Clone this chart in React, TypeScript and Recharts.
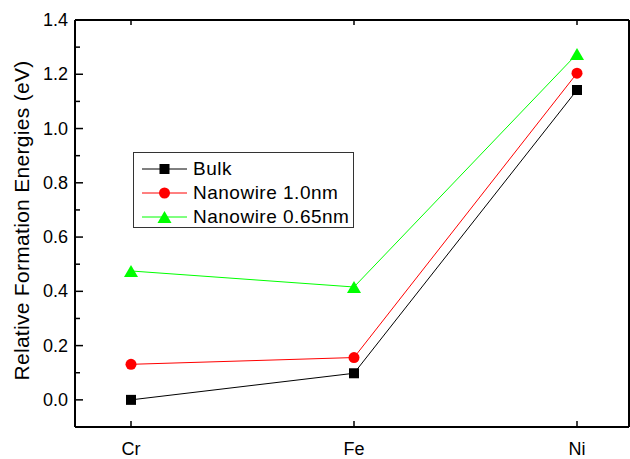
import { LineChart, Line, XAxis, YAxis, Legend, Label } from 'recharts'

const elements = ['Cr', 'Fe', 'Ni']
const bulk = [0.0, 0.098, 1.142]
const nanowire10 = [0.131, 0.156, 1.204]
const nanowire065 = [0.475, 0.416, 1.275]
const yTicks = [-0.1, 0, 0.1, 0.2, 0.3, 0.4, 0.5, 0.6, 0.7, 0.8, 0.9, 1.0, 1.1, 1.2, 1.3, 1.4]

const data = elements.map((el, i) => ({
  el,
  bulk: bulk[i],
  nw10: nanowire10[i],
  nw065: nanowire065[i],
}))

const FONT = '"Liberation Sans", Arial, Helvetica, sans-serif'
const AXIS_LINE = { stroke: '#000', strokeWidth: 2 }

const SERIES = [
  { key: 'bulk', name: 'Bulk', color: '#000000', shape: 'square' },
  { key: 'nw10', name: 'Nanowire 1.0nm', color: '#ff0000', shape: 'circle' },
  { key: 'nw065', name: 'Nanowire 0.65nm', color: '#00ff00', shape: 'triangle' },
]

function Marker({ cx, cy, shape, color }: any) {
  if (cx == null || cy == null) return null
  if (shape === 'square') return <rect x={cx - 5} y={cy - 5} width={10} height={10} fill={color} />
  if (shape === 'circle') return <circle cx={cx} cy={cy} r={5.5} fill={color} />
  return <polygon points={`${cx},${cy - 6} ${cx - 7},${cy + 6} ${cx + 7},${cy + 6}`} fill={color} />
}

const isMajor = (v: number) => Math.round(v * 10) % 2 === 0 && v >= 0

// ticks point inward, like the original plot
function LeftTick({ x, y, payload }: any) {
  const v = payload.value
  const major = isMajor(v)
  return (
    <g>
      <line x1={x} x2={x + (major ? 8 : 5)} y1={y} y2={y} stroke="#000" strokeWidth={1.5} />
      {major && (
        <text x={x - 7} y={y} textAnchor="end" dominantBaseline="central" fontSize={18} fontFamily={FONT} fill="#000">
          {v.toFixed(1)}
        </text>
      )}
    </g>
  )
}

function RightTick({ x, y, payload }: any) {
  const major = isMajor(payload.value)
  return <line x1={x} x2={x - (major ? 7 : 4)} y1={y} y2={y} stroke="#000" strokeWidth={1.5} />
}

function BottomTick({ x, y, payload }: any) {
  return (
    <g>
      <line x1={x} x2={x} y1={y} y2={y - 6} stroke="#000" strokeWidth={1.5} />
      <text x={x} y={y + 28} textAnchor="middle" fontSize={18} fontFamily={FONT} fill="#000">
        {payload.value}
      </text>
    </g>
  )
}

function TopTick({ x, y }: any) {
  return <line x1={x} x2={x} y1={y} y2={y + 5} stroke="#000" strokeWidth={1.5} />
}

function LegendBox() {
  return (
    <div
      style={{
        boxSizing: 'border-box',
        width: 221,
        height: 76,
        border: '1px solid #333',
        background: '#fff',
        paddingTop: 4,
        fontFamily: FONT,
        fontSize: 19,
        letterSpacing: 0.5,
        color: '#000',
      }}
    >
      {SERIES.map(s => (
        <div key={s.key} style={{ height: 24, display: 'flex', alignItems: 'center' }}>
          <svg width={48} height={24} style={{ marginLeft: 7, marginRight: 4, flex: 'none' }}>
            <line x1={1} x2={46} y1={12} y2={12} stroke={s.color} strokeWidth={1} />
            <Marker cx={23.5} cy={12} shape={s.shape} color={s.color} />
          </svg>
          <span style={{ lineHeight: '24px', whiteSpace: 'nowrap' }}>{s.name}</span>
        </div>
      ))}
    </div>
  )
}

export default function App() {
  return (
    <div style={{ position: 'absolute', left: 0, top: 0, background: '#fff' }}>
      <LineChart width={630} height={459} data={data} margin={{ top: 0, right: 0, bottom: 0, left: 0 }}>
        <XAxis
          xAxisId="bottom"
          dataKey="el"
          type="category"
          orientation="bottom"
          height={32}
          padding={{ left: 56, right: 52 }}
          axisLine={AXIS_LINE}
          tickLine={false}
          tickSize={0}
          tickMargin={0}
          interval={0}
          tick={<BottomTick />}
        />
        <XAxis
          xAxisId="top"
          dataKey="el"
          type="category"
          orientation="top"
          height={20}
          padding={{ left: 56, right: 52 }}
          axisLine={AXIS_LINE}
          tickLine={false}
          tickSize={0}
          tickMargin={0}
          interval={0}
          tick={<TopTick />}
        />
        <YAxis
          yAxisId="left"
          orientation="left"
          width={75}
          domain={[-0.1, 1.4]}
          ticks={yTicks}
          interval={0}
          axisLine={AXIS_LINE}
          tickLine={false}
          tickSize={0}
          tickMargin={0}
          tick={<LeftTick />}
        >
          <Label
            content={({ viewBox }: any) => {
              const cx = viewBox.x + 21
              const cy = viewBox.y + viewBox.height / 2 - 3
              return (
                <text
                  x={cx}
                  y={cy}
                  transform={`rotate(-90 ${cx} ${cy})`}
                  textAnchor="middle"
                  dominantBaseline="central"
                  fontSize={21}
                  fontFamily={FONT}
                  letterSpacing={0.3}
                  fill="#000"
                >
                  Relative Formation Energies (eV)
                </text>
              )
            }}
          />
        </YAxis>
        <YAxis
          yAxisId="right"
          orientation="right"
          width={1}
          domain={[-0.1, 1.4]}
          ticks={yTicks}
          interval={0}
          axisLine={AXIS_LINE}
          tickLine={false}
          tickSize={0}
          tickMargin={0}
          tick={<RightTick />}
        />
        <Legend
          layout="vertical"
          align="center"
          verticalAlign="middle"
          content={() => <LegendBox />}
          wrapperStyle={{ left: 133, top: 152, width: 221, height: 76 }}
        />
        {SERIES.map(s => (
          <Line
            key={s.key}
            xAxisId="bottom"
            yAxisId="left"
            type="linear"
            dataKey={s.key}
            name={s.name}
            stroke={s.color}
            strokeWidth={1}
            dot={(p: any) => <Marker key={`${s.key}-${p.index}`} cx={p.cx} cy={p.cy} shape={s.shape} color={s.color} />}
            activeDot={false}
            isAnimationActive={false}
          />
        ))}
      </LineChart>
    </div>
  )
}
